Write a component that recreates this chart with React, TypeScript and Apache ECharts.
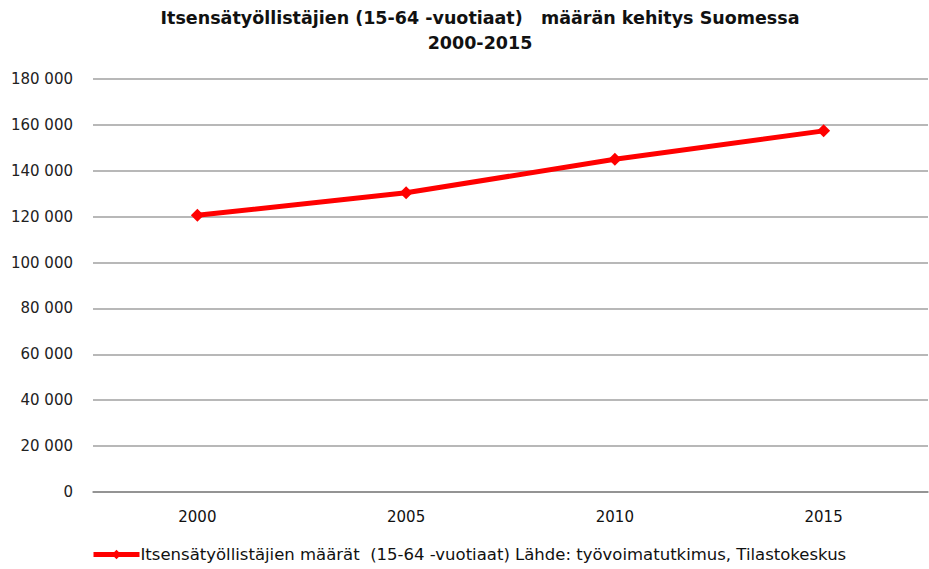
import React, { useEffect, useRef } from "react";
import * as echarts from "echarts";

const years = ["2000", "2005", "2010", "2015"];
const values = [120600, 130400, 145000, 157400];
const seriesName = "Itsensätyöllistäjien määrät  (15-64 -vuotiaat) Lähde: työvoimatutkimus, Tilastokeskus";
const titleText = "Itsensätyöllistäjien (15-64 -vuotiaat)   määrän kehitys Suomessa\n2000-2015";

const FONT = "DejaVu Sans, Liberation Sans, Arial, sans-serif";

export default function App() {
  const ref = useRef<HTMLDivElement>(null);
  useEffect(() => {
    const chart = echarts.init(ref.current!, null, { renderer: "svg" });
    chart.setOption({
      animation: false,
      backgroundColor: "#ffffff",
      textStyle: { fontFamily: FONT },
      title: {
        text: titleText,
        left: 475,
        textAlign: "center",
        top: 0,
        textStyle: { fontSize: 17.5, fontWeight: "bold", color: "#111", lineHeight: 25, fontFamily: FONT },
      },
      grid: { left: 93, right: 1, top: 79, bottom: 77 },
      legend: {
        bottom: 1,
        left: 86,
        itemWidth: 46,
        itemHeight: 12,
        itemGap: 0,
        lineStyle: { width: 5 },
        textStyle: { fontSize: 16.5, color: "#111", padding: [0, 0, 0, -4], fontFamily: FONT },
        data: [{ name: seriesName }],
      },
      xAxis: {
        type: "category",
        data: years,
        boundaryGap: true,
        axisLine: { lineStyle: { color: "#888", width: 1.5 } },
        axisTick: { show: false },
        axisLabel: { fontSize: 15, color: "#111", margin: 17, fontFamily: FONT },
      },
      yAxis: {
        type: "value",
        min: 0,
        max: 180000,
        interval: 20000,
        axisLine: { show: false },
        axisTick: { show: false },
        axisLabel: {
          fontSize: 15,
          color: "#222",
          margin: 20,
          fontFamily: FONT,
          formatter: (v: number) => (v === 0 ? "0" : Math.round(v / 1000) + " 000"),
        },
        splitLine: { lineStyle: { color: "#a0a0a0", width: 1.5 } },
      },
      series: [
        {
          name: seriesName,
          type: "line",
          data: values,
          symbol: "diamond",
          symbolSize: 13,
          lineStyle: { color: "#ff0000", width: 5 },
          itemStyle: { color: "#ff0000" },
        },
      ],
    });
    return () => chart.dispose();
  }, []);
  return <div ref={ref} style={{ width: 929, height: 569, position: "absolute", left: 0, top: 0 }} />;
}
